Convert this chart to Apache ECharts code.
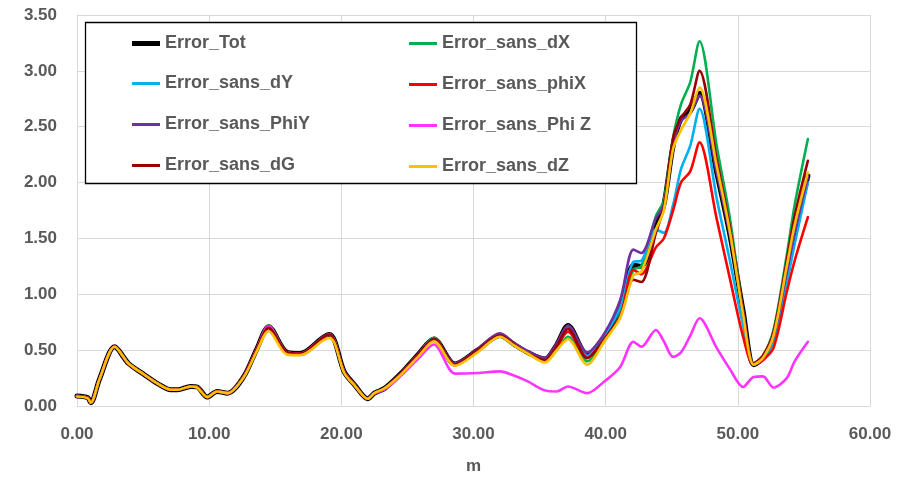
<!DOCTYPE html>
<html>
<head>
<meta charset="utf-8">
<script src="https://cdn.jsdelivr.net/npm/echarts@6/dist/echarts.min.js"></script>
<style>
html,body{margin:0;padding:0;background:#fff;}
#c{width:910px;height:480px;}
</style>
</head>
<body>
<div id="c"></div>
<script>
// Distance along the axis (m)
var xs = [0, 0.8, 1.05, 1.7, 2.85, 3.9, 5.1, 6.1, 7.1, 7.6,
  8.6, 9.1, 9.85, 10.6, 11.4, 12.6, 13.6, 14.5, 15.9, 16.9,
  19.1, 19.5, 20.2, 21.0, 22.0, 22.5, 23.3, 24.5, 25.8, 27.0,
  28.6, 30.3, 32.0, 33.1, 34.1, 35.4, 36.3, 37.15, 38.6, 39.9,
  41.1, 42.1, 42.7, 43.8, 44.4, 45.1, 45.7, 46.4, 47.1, 48.4,
  49.4, 50.4, 51.2, 51.9, 52.7, 53.7, 54.3, 55.3];

var errorTot = [0.09,0.075,0.03,0.24,0.53,0.38,0.28,0.20,0.145,0.145,
  0.175,0.17,0.08,0.13,0.115,0.26,0.51,0.71,0.48,0.47,
  0.64,0.58,0.31,0.19,0.065,0.115,0.16,0.29,0.46,0.60,
  0.375,0.50,0.63,0.55,0.48,0.42,0.55,0.72,0.46,0.62,
  0.86,1.26,1.25,1.62,1.80,2.33,2.57,2.64,2.80,2.09,
  1.53,0.85,0.37,0.43,0.62,1.20,1.55,2.06];

var errorSansDX = [0.09,0.075,0.03,0.24,0.53,0.38,0.28,0.20,0.145,0.145,
  0.175,0.17,0.08,0.13,0.115,0.26,0.51,0.72,0.48,0.47,
  0.64,0.58,0.31,0.19,0.065,0.115,0.16,0.29,0.46,0.61,
  0.37,0.49,0.62,0.54,0.47,0.40,0.50,0.62,0.40,0.58,
  0.82,1.22,1.25,1.70,1.84,2.40,2.70,2.90,3.265,2.33,
  1.68,0.84,0.38,0.45,0.68,1.35,1.80,2.39];

var errorSansDY = [0.09,0.075,0.03,0.24,0.53,0.38,0.28,0.20,0.145,0.145,
  0.175,0.17,0.08,0.13,0.115,0.26,0.51,0.71,0.48,0.47,
  0.64,0.58,0.31,0.19,0.065,0.115,0.16,0.29,0.46,0.60,
  0.375,0.50,0.63,0.55,0.48,0.42,0.54,0.70,0.45,0.63,
  0.88,1.29,1.30,1.58,1.55,1.80,2.12,2.33,2.66,1.86,
  1.30,0.72,0.37,0.42,0.58,1.10,1.45,2.00];

var errorSansPhiX = [0.09,0.075,0.03,0.24,0.53,0.38,0.28,0.20,0.145,0.145,
  0.175,0.17,0.08,0.13,0.115,0.26,0.51,0.71,0.48,0.47,
  0.64,0.58,0.31,0.19,0.065,0.115,0.16,0.29,0.46,0.60,
  0.38,0.50,0.63,0.55,0.48,0.41,0.53,0.665,0.43,0.60,
  0.80,1.22,1.18,1.42,1.50,1.75,2.00,2.10,2.36,1.675,
  1.14,0.62,0.37,0.41,0.52,1.02,1.30,1.69];

var errorSansPhiY = [0.09,0.075,0.03,0.24,0.53,0.38,0.28,0.20,0.145,0.145,
  0.175,0.17,0.08,0.13,0.115,0.26,0.51,0.71,0.48,0.47,
  0.64,0.58,0.31,0.19,0.065,0.115,0.16,0.29,0.46,0.60,
  0.38,0.51,0.65,0.56,0.49,0.43,0.56,0.72,0.48,0.65,
  0.95,1.40,1.37,1.68,1.80,2.33,2.55,2.62,2.78,2.09,
  1.53,0.85,0.37,0.43,0.62,1.20,1.55,2.05];

var errorSansPhiZ = [0.09,0.075,0.03,0.24,0.53,0.38,0.28,0.20,0.145,0.145,
  0.175,0.17,0.08,0.13,0.115,0.26,0.51,0.71,0.48,0.47,
  0.64,0.58,0.31,0.19,0.065,0.11,0.15,0.27,0.42,0.55,
  0.29,0.295,0.31,0.27,0.22,0.14,0.13,0.175,0.115,0.22,
  0.35,0.575,0.53,0.68,0.58,0.44,0.48,0.63,0.785,0.52,
  0.33,0.17,0.26,0.265,0.165,0.25,0.40,0.575];

var errorSansDG = [0.09,0.075,0.03,0.24,0.53,0.38,0.28,0.20,0.145,0.145,
  0.175,0.17,0.08,0.13,0.115,0.26,0.51,0.70,0.48,0.47,
  0.64,0.58,0.31,0.19,0.065,0.115,0.16,0.29,0.46,0.60,
  0.37,0.50,0.63,0.55,0.47,0.41,0.54,0.69,0.43,0.60,
  0.80,1.13,1.11,1.55,1.78,2.40,2.58,2.70,3.00,2.21,
  1.60,0.85,0.38,0.45,0.66,1.30,1.70,2.195];

var errorSansDZ = [0.085,0.07,0.03,0.24,0.53,0.38,0.28,0.20,0.145,0.145,
  0.175,0.165,0.08,0.13,0.115,0.255,0.49,0.67,0.46,0.455,
  0.61,0.56,0.30,0.185,0.065,0.115,0.16,0.28,0.44,0.58,
  0.36,0.48,0.62,0.54,0.47,0.39,0.50,0.60,0.37,0.58,
  0.79,1.17,1.20,1.58,1.75,2.30,2.47,2.62,2.85,2.15,
  1.56,0.82,0.37,0.43,0.63,1.25,1.62,2.09];

var xTicks = [0, 10, 20, 30, 40, 50, 60];
var yTicks = [0, 0.5, 1, 1.5, 2, 2.5, 3, 3.5];

var seriesDefs = [
  {name: 'Error_Tot', values: errorTot, color: '#000000', width: 5},
  {name: 'Error_sans_dX', values: errorSansDX, color: '#00B050', width: 2.6},
  {name: 'Error_sans_dY', values: errorSansDY, color: '#00B0F0', width: 2.6},
  {name: 'Error_sans_phiX', values: errorSansPhiX, color: '#FF0000', width: 2.6},
  {name: 'Error_sans_PhiY', values: errorSansPhiY, color: '#7030A0', width: 2.6},
  {name: 'Error_sans_Phi Z', values: errorSansPhiZ, color: '#FF33FF', width: 2.6},
  {name: 'Error_sans_dG', values: errorSansDG, color: '#990000', width: 2.6},
  {name: 'Error_sans_dZ', values: errorSansDZ, color: '#FFC000', width: 2.6}
];

var FONT = 'Liberation Sans';
var GRAY = '#595959';

var chart = echarts.init(document.getElementById('c'), null, {renderer: 'canvas'});

var series = seriesDefs.map(function (d) {
  return {
    name: d.name,
    type: 'line',
    smooth: 0.3,
    symbol: 'none',
    showSymbol: false,
    color: d.color,
    itemStyle: {color: d.color},
    lineStyle: {color: d.color, width: d.width, cap: 'round', join: 'round'},
    data: xs.map(function (x, i) { return [x, d.values[i]]; }),
    animation: false
  };
});

var legendText = {fontFamily: FONT, fontSize: 18, fontWeight: 'bold', color: GRAY};
function legendBlock(left, top, names, h) {
  return {
    orient: 'vertical', left: left, top: top,
    icon: 'rect', itemWidth: 28, itemHeight: h, itemGap: 23,
    textStyle: legendText, data: names, z: 5
  };
}

var option = {
  animation: false,
  backgroundColor: '#ffffff',
  grid: {left: 77, right: 40, top: 15, bottom: 72, containLabel: false},
  xAxis: {
    type: 'value',
    min: xTicks[0], max: xTicks[xTicks.length - 1], interval: 10,
    name: 'm', nameLocation: 'middle', nameGap: 52,
    nameTextStyle: {fontFamily: FONT, fontSize: 17, fontWeight: 'bold', color: GRAY},
    axisLine: {show: true, lineStyle: {color: '#d9d9d9', width: 1}},
    axisTick: {show: false},
    splitLine: {show: true, lineStyle: {color: '#d9d9d9', width: 1}},
    axisLabel: {margin: 20, fontFamily: FONT, fontSize: 17, fontWeight: 'bold', color: GRAY,
      formatter: function (v) { return v.toFixed(2); }}
  },
  yAxis: {
    type: 'value',
    min: yTicks[0], max: yTicks[yTicks.length - 1], interval: 0.5,
    axisLine: {show: true, lineStyle: {color: '#d9d9d9', width: 1}},
    axisTick: {show: false},
    splitLine: {show: true, lineStyle: {color: '#d9d9d9', width: 1}},
    axisLabel: {margin: 20, fontFamily: FONT, fontSize: 17, fontWeight: 'bold', color: GRAY,
      formatter: function (v) { return v.toFixed(2); }}
  },
  graphic: [{
    type: 'rect', z: 3,
    shape: {x: 85.5, y: 22.5, width: 551, height: 161},
    style: {fill: '#ffffff', stroke: '#000000', lineWidth: 1.3}
  }],
  legend: [
    legendBlock(127, 29.5, ['Error_Tot'], 5),
    legendBlock(127, 69.5, ['Error_sans_dY', 'Error_sans_PhiY', 'Error_sans_dG'], 3),
    legendBlock(404, 29.5, ['Error_sans_dX', 'Error_sans_phiX', 'Error_sans_Phi Z', 'Error_sans_dZ'], 3)
  ],
  series: series
};

chart.setOption(option);
</script>
</body>
</html>
